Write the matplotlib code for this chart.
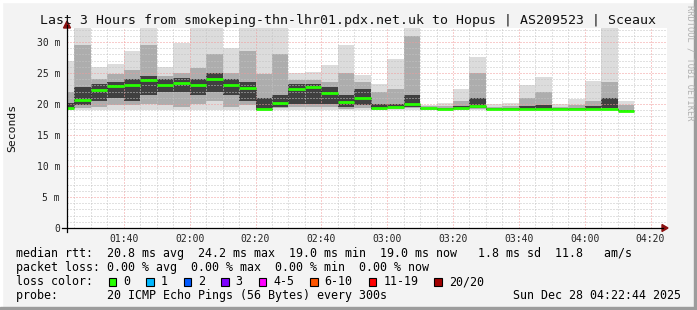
import numpy as np
import matplotlib
matplotlib.use("Agg")
import matplotlib.pyplot as plt
from matplotlib.patches import Rectangle, Polygon
from matplotlib.lines import Line2D
from matplotlib.transforms import Affine2D

W, H = 697, 310
MONO = "DejaVu Sans Mono"

# 5 minute rounds, the first one starts at 01:20 (minutes after midnight)
first_start = 80
step = 5
view_end = 4 * 60 + 22 + 44 / 60   # Sun Dec 28 04:22:44
view_span = 180                    # last 3 hours

# smoke per round, in ms
median_ms = [19.35, 20.6, 22.3, 22.9, 23.1, 23.8, 23.1, 23.4, 23.1, 24.1,
             23.1, 22.6, 19.25, 20.2, 22.5, 22.7, 21.8, 20.4, 21.0, 19.4,
             19.5, 19.95, 19.3, 19.25, 19.4, 19.7, 19.15, 19.15, 19.25, 19.25,
             19.15, 19.25, 19.25, 19.25, 18.9]
min_ms = [19.0, 19.0, 19.0, 19.0, 19.0, 19.0, 19.0, 19.0, 19.0, 19.0,
          19.0, 19.0, 18.8, 19.0, 19.0, 19.0, 19.0, 19.0, 19.0, 19.0,
          19.0, 19.0, 19.0, 19.0, 19.0, 19.0, 19.0, 19.0, 19.0, 19.0,
          19.0, 18.9, 19.0, 19.0, 18.8]
max_ms = [26.9, 33.0, 25.9, 26.5, 28.6, 33.0, 25.9, 29.9, 33.0, 33.0,
          29.1, 33.0, 33.0, 33.0, 24.95, 25.2, 26.3, 29.5, 24.7, 23.2,
          27.3, 33.0, 19.8, 20.1, 22.4, 27.5, 19.95, 20.1, 23.1, 24.4,
          19.95, 20.8, 23.7, 33.0, 20.5]
q_lo_ms = [19.1, 19.3, 19.5, 19.8, 19.8, 20.0, 19.8, 19.5, 20.0, 20.5,
           19.5, 19.8, 19.0, 19.3, 19.5, 19.5, 19.5, 19.2, 19.3, 19.1,
           19.2, 19.3, 19.1, 19.1, 19.1, 19.2, 19.0, 19.0, 19.1, 19.1,
           19.0, 19.0, 19.1, 19.2, 18.85]
q_hi_ms = [22.0, 29.5, 24.0, 24.8, 25.5, 29.5, 24.5, 25.0, 25.8, 28.0,
           25.0, 28.5, 24.8, 28.0, 23.8, 23.8, 23.5, 25.0, 23.5, 22.0,
           22.5, 30.9, 19.6, 19.7, 20.5, 25.0, 19.5, 19.6, 21.0, 22.0,
           19.5, 19.9, 20.5, 23.6, 19.8]
core_lo_ms = [19.2, 19.8, 20.5, 21.0, 20.5, 21.5, 22.0, 22.0, 21.5, 22.0,
              21.5, 20.5, 19.0, 19.5, 20.0, 20.0, 20.0, 19.5, 19.8, 19.2,
              19.3, 19.5, 19.2, 19.1, 19.2, 19.4, 19.05, 19.05, 19.1, 19.1,
              19.05, 19.1, 19.1, 19.3, 18.85]
core_hi_ms = [20.2, 22.8, 23.2, 23.5, 24.0, 24.5, 24.0, 24.2, 24.0, 25.0,
              24.0, 23.5, 21.0, 21.5, 23.2, 23.3, 22.8, 21.5, 22.5, 20.0,
              20.0, 21.5, 19.4, 19.4, 19.6, 21.0, 19.3, 19.3, 19.6, 19.8,
              19.3, 19.4, 19.6, 21.0, 19.0]

loss_labels = ["0", "1", "2", "3", "4-5", "6-10", "11-19", "20/20"]
loss_colors = ["#26ff00", "#00b8ff", "#0059ff", "#7e00ff",
               "#ff00ff", "#ff5500", "#ff0000", "#a10000"]

title = "Last 3 Hours from smokeping-thn-lhr01.pdx.net.uk to Hopus | AS209523 | Sceaux"
rtt_line = "median rtt:  20.8 ms avg  24.2 ms max  19.0 ms min  19.0 ms now   1.8 ms sd  11.8   am/s"
loss_line = "packet loss: 0.00 % avg  0.00 % max  0.00 % min  0.00 % now"
probe_line = "probe:       20 ICMP Echo Pings (56 Bytes) every 300s"
stamp = "Sun Dec 28 04:22:44 2025"

fig = plt.figure(figsize=(W / 100, H / 100), dpi=100, facecolor="#f3f3f3")
# pixel coords, origin top left
pix = Affine2D().scale(1 / W, -1 / H).translate(0, 1) + fig.transFigure

ax = fig.add_axes([67 / W, 1 - 228 / H, 600 / W, 200 / H])
ax.set_facecolor("white")
ax.set_xlim(view_end - view_span, view_end)
ax.set_ylim(0, 200 / 6.2)

starts = first_start + step * np.arange(len(median_ms))
for lo, hi, col in [(min_ms, max_ms, "#dcdcdc"),
                    (q_lo_ms, q_hi_ms, "#adadad"),
                    (core_lo_ms, core_hi_ms, "#404040")]:
    ax.bar(starts, np.subtract(hi, lo), bottom=lo, width=step, align="edge",
           color=col, linewidth=0, zorder=1)

# median line, black step under the loss coloured bits
ax.step(np.append(starts, starts[-1] + step), np.append(median_ms, median_ms[-1]),
        where="post", color="#202020", lw=0.6, ls=(0, (1, 1)), zorder=3)
ax.hlines(median_ms, starts, starts + step, color=loss_colors[0], lw=2.0, zorder=4)

# grid
ax.set_xticks(np.arange(100, 261, 20))
ax.set_xticks(np.arange(85, 266, 5), minor=True)
ax.set_xticklabels([f"{m // 60:02d}:{m % 60:02d}" for m in range(100, 261, 20)])
ax.set_yticks(np.arange(0, 31, 5))
ax.set_yticks(np.arange(0, 33, 1), minor=True)
ax.set_yticklabels(["0"] + [f"{v} m" for v in range(5, 31, 5)])
ax.set_axisbelow(False)
ax.grid(which="minor", color="#c4c4c4", lw=0.72, ls=(0, (1, 2)), zorder=2)
ax.grid(which="major", color="#f29a9a", lw=0.72, ls=(0, (1, 2)), zorder=2)
ax.tick_params(which="both", length=0)
ax.tick_params(axis="x", pad=4.5, labelsize=7, labelcolor="#222222")
ax.tick_params(axis="y", pad=5, labelsize=7, labelcolor="#222222")
for lab in ax.get_xticklabels() + ax.get_yticklabels():
    lab.set_family(MONO)
for s in ax.spines.values():
    s.set_visible(False)

# axes with arrows
fig.add_artist(Line2D([62, 663], [228, 228], color="black", lw=0.9, transform=pix))
fig.add_artist(Line2D([67, 67], [232, 25], color="black", lw=0.9, transform=pix))
fig.add_artist(Polygon([[662, 224.5], [668, 228], [662, 231.5]], closed=True,
                       color="#8b1010", transform=pix))
fig.add_artist(Polygon([[63.5, 28], [67, 21], [70.5, 28]], closed=True,
                       color="#8b1010", transform=pix))

# texts
fig.text(348, 24, title, transform=pix, family=MONO, fontsize=9.55,
         ha="center", va="baseline", color="#111111")
fig.text(12, 128, "Seconds", transform=pix, family=MONO, fontsize=8.2,
         rotation=90, ha="center", va="center", color="#111111")
fig.text(690, 5, "RRDTOOL / TOBI OETIKER", transform=pix, family=MONO,
         fontsize=6.2, rotation=-90, ha="center", va="top", color="#b0b0b0")

lsize = 8.4
fig.text(16, 257.5, rtt_line, transform=pix, family=MONO, fontsize=lsize, va="baseline")
fig.text(16, 271.3, loss_line, transform=pix, family=MONO, fontsize=lsize, va="baseline")
fig.text(16, 285.3, "loss color:", transform=pix, family=MONO, fontsize=lsize, va="baseline")
fig.text(16, 299, probe_line, transform=pix, family=MONO, fontsize=lsize, va="baseline")
fig.text(513, 299, stamp, transform=pix, family=MONO, fontsize=lsize, va="baseline")

char_w = 7.02
x = 108.5
for lab, col in zip(loss_labels, loss_colors):
    fig.add_artist(Rectangle((x, 278), 7.5, 7.5, facecolor=col, edgecolor="black",
                             lw=0.8, transform=pix))
    fig.text(x + 14.5, 285.3, lab, transform=pix, family=MONO, fontsize=lsize,
             va="baseline")
    x = x + 14.5 + len(lab) * char_w + 16

# 3d frame
fig.add_artist(Rectangle((0, 0), W, 2, color="#ffffff", transform=pix))
fig.add_artist(Rectangle((0, 0), 2, H, color="#ffffff", transform=pix))
fig.add_artist(Rectangle((0, H - 3), W, 3, color="#9c9c9c", transform=pix))
fig.add_artist(Rectangle((W - 3, 0), 3, H, color="#9c9c9c", transform=pix))

fig.savefig("out.png", dpi=100, facecolor=fig.get_facecolor())
